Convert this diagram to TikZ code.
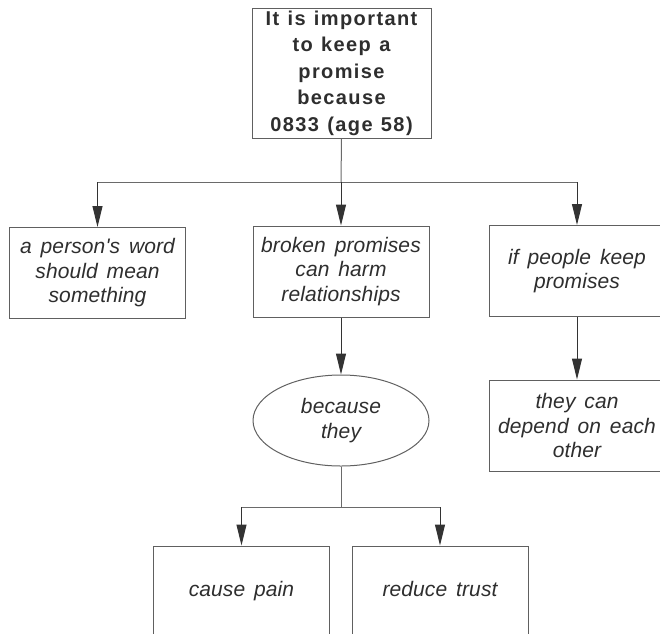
\documentclass[tikz,border=0pt]{standalone}
\usepackage{fontspec}
\setmainfont{Liberation Sans}
\newfontfamily\labfont[LetterSpace=0.5,WordSpace=1.5]{Liberation Sans}
\newfontfamily\headfont[LetterSpace=7,WordSpace=1.2]{Liberation Sans}
\usetikzlibrary{arrows.meta,shapes.geometric}
\definecolor{boxc}{HTML}{606060}
\definecolor{linec}{HTML}{6A6A6A}
\definecolor{arrc}{HTML}{333333}
\definecolor{txt}{HTML}{2E2E2E}
\tikzset{
  x=1pt,y=-1pt,
  box/.style={draw=boxc,line width=1pt,rectangle,minimum width=176pt,minimum height=91pt,inner sep=0pt,align=center,text=txt,font=\labfont\itshape\fontsize{21}{24.5}\selectfont},
  headbox/.style={draw=boxc,line width=1pt,rectangle,minimum width=179pt,minimum height=130pt,inner sep=0pt,align=center,text=txt,font=\headfont\bfseries\fontsize{20}{26.5}\selectfont},
  ovalbox/.style={box,ellipse},
  plainline/.style={draw=linec,line width=1pt},
  arrline/.style={draw=arrc,line width=1pt,-{Triangle[length=21pt,width=10pt]}},
}
\begin{document}
\begin{tikzpicture}
\useasboundingbox (0,0) rectangle (660,633);
\clip (0,0) rectangle (660,633);
\node[headbox] (top) at (341.5,73) {It is important\\to keep a\\promise\\because\\0833 (age 58)};
\node[box] (a) at (97.5,273) {a person's word\\should mean\\something};
\node[box] (b) at (341,271.5) {broken promises\\can harm\\relationships};
\node[box] (c) at (577,271) {if people keep\\promises};
\node[box] (d) at (577,425.5) {they can\\depend on each\\other};
\node[ovalbox] (e) at (341,420.5) {because\\they};
\node[box] (f) at (241.5,591.5) {\strut cause pain};
\node[box] (g) at (440,591.5) {\strut reduce trust};
\coordinate (j1) at (341,182);
\coordinate (j2) at (341,507);
\draw[plainline] (top.south) -- (j1);
\draw[plainline] (a.north |- j1) -- (c.north |- j1);
\draw[arrline] (a.north |- j1) -- (a.north);
\draw[arrline] (j1) -- (b.north);
\draw[arrline] (c.north |- j1) -- (c.north);
\draw[arrline] (b.south) -- (e.north);
\draw[arrline] (c.south) -- (d.north);
\draw[plainline] (e.south) -- (j2);
\draw[plainline] (f.north |- j2) -- (g.north |- j2);
\draw[arrline] (f.north |- j2) -- (f.north);
\draw[arrline] (g.north |- j2) -- (g.north);
\end{tikzpicture}
\end{document}
